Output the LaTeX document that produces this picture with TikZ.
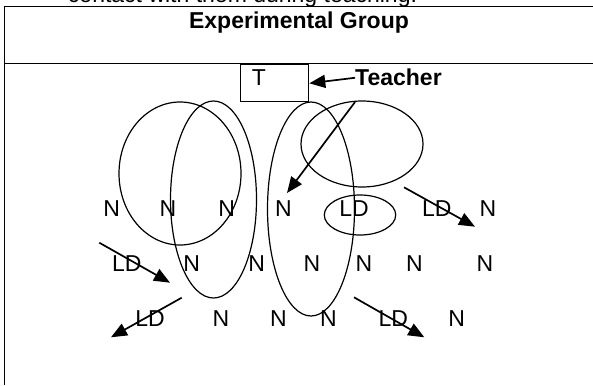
\documentclass[tikz,border=0pt]{standalone}
\usepackage{fontspec}
\setmainfont{Liberation Sans}
\usetikzlibrary{arrows.meta}
\usetikzlibrary{positioning}

\tikzset{
    pupil/.style={font=\fontsize{23}{27}\selectfont, inner sep=0pt, anchor=base},
    heading/.style={font=\bfseries\fontsize{23}{27}\selectfont, inner sep=0pt, anchor=base},
    ring/.style={line width=1.2pt},
    frame/.style={line width=1.7pt},
    pointer/.style={line width=1.7pt, -{Triangle[length=16pt,width=13pt]}}
}

\begin{document}
\begin{tikzpicture}[x=1pt, y=-1pt]
        \useasboundingbox (0,0) rectangle (593,385);

        % Table frame
        \draw[frame] (4.5,385) -- (4.5,6.5) -- (593,6.5);
        \draw[frame] (4.5,63.5) -- (593,63.5);
        \node[pupil] (caption) at (242.5,2.5) {contact with them during teaching.};
        \node[heading] (title) at (299,28.5) {Experimental Group};

        % Teacher's desk
        \node[draw, line width=1.2pt, minimum width=68pt, minimum height=37pt, inner sep=0pt] (desk) at (274.7,83.3) {};
        \node[pupil] (tlabel) at (259,86) {T};
        \node[heading, anchor=base west] (teacher) at (355,86) {Teacher};
        \draw[pointer] (teacher.west) -- (desk.east);

        % Groups
        \draw[ring] (180,173.5) ellipse [x radius=61pt, y radius=71.5pt];
        \draw[ring] (213.5,199.5) ellipse [x radius=43pt, y radius=98.5pt];
        \draw[ring] (311,209) ellipse [x radius=43.5pt, y radius=107pt];
        \draw[ring] (362,144) ellipse [x radius=61pt, y radius=43pt];
        \draw[ring] (360,215) ellipse [x radius=35.7pt, y radius=20pt];

        % Pupils
        \foreach \x/\t [count=\i] in {111.7/N,168/N,226.7/N,283.3/N,354/LD,436.7/LD,488/N}
            \node[pupil] (front\i) at (\x,216.5) {\t};
        \foreach \x/\t [count=\i] in {126.7/LD,191.7/N,256.7/N,312/N,364/N,414.3/N,485/N}
            \node[pupil] (middle\i) at (\x,271.5) {\t};
        \foreach \x/\t [count=\i] in {150/LD,221/N,278.3/N,328.3/N,393.3/LD,456.7/N}
            \node[pupil] (back\i) at (\x,326.5) {\t};

        % Movements
        \coordinate (s1) at (355,102);   \coordinate (e1) at (287,193);
        \coordinate (s2) at (404,187.3); \coordinate (e2) at (475,226.7);
        \coordinate (s3) at (99.3,242.7); \coordinate (e3) at (170,282.7);
        \coordinate (s4) at (181.7,297.7); \coordinate (e4) at (111,337.3);
        \coordinate (s5) at (354,297.3); \coordinate (e5) at (424.3,337.3);
        \foreach \a in {1,...,5}
            \draw[pointer] (s\a) -- (e\a);
    \end{tikzpicture}
\end{document}
